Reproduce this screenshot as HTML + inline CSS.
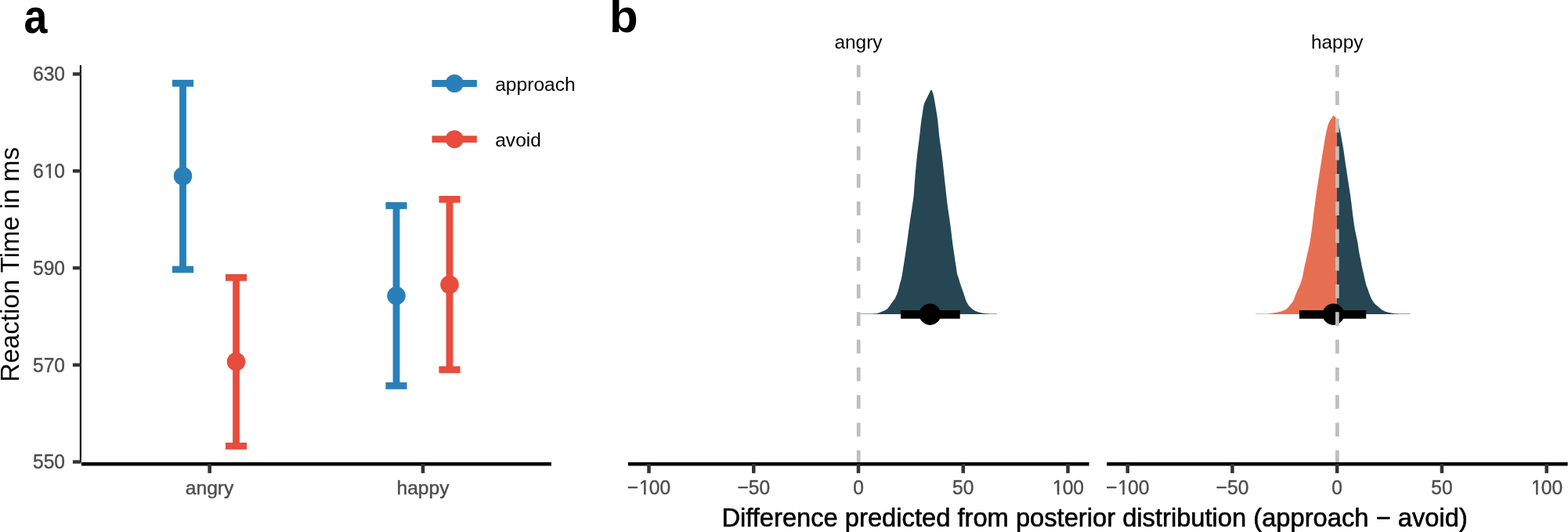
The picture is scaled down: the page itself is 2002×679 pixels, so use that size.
<!DOCTYPE html>
<html><head><meta charset="utf-8"><title>Figure</title>
<style>html,body{margin:0;padding:0;background:#fff;width:2002px;height:679px;overflow:hidden}svg{display:block}</style>
</head><body>
<svg width="2002" height="679" viewBox="0 0 2002 679">
<rect width="2002" height="679" fill="#FFFFFF"/>
<text transform="translate(30.4 41.85) scale(0.875 1)" font-family="'Liberation Sans', Arial, sans-serif" font-weight="bold" font-size="61.5" fill="#000">a</text>
<text x="778" y="41.0" font-family="'Liberation Sans', Arial, sans-serif" font-weight="bold" font-size="60" fill="#000">b</text>
<text transform="translate(24.4 337.6) rotate(-90)" text-anchor="middle" font-family="'Liberation Sans', Arial, sans-serif" font-size="33.1" fill="#000">Reaction Time in ms</text>
<line x1="102.85" y1="84.05" x2="102.85" y2="589.5" stroke="#000" stroke-width="2.1" stroke-linecap="round"/>
<line x1="92.9" y1="94.50" x2="103.3" y2="94.50" stroke="#333333" stroke-width="4.4"/>
<text transform="translate(41.96 103.40) scale(1 1.07)" font-family="'Liberation Sans', Arial, sans-serif" font-size="24.6" fill="#4D4D4D" stroke="#4D4D4D" stroke-width="0.4" stroke-linejoin="round">630</text>
<line x1="92.9" y1="218.25" x2="103.3" y2="218.25" stroke="#333333" stroke-width="4.4"/>
<text transform="translate(41.96 227.15) scale(1 1.07)" font-family="'Liberation Sans', Arial, sans-serif" font-size="24.6" fill="#4D4D4D" stroke="#4D4D4D" stroke-width="0.4" stroke-linejoin="round">6<tspan dx="0.90">1</tspan><tspan dx="-0.90">0</tspan></text><rect x="57.02" y="223.68" width="5.49" height="4.67" fill="#FFFFFF"/><rect x="65.12" y="223.68" width="4.85" height="4.67" fill="#FFFFFF"/>
<line x1="92.9" y1="342.00" x2="103.3" y2="342.00" stroke="#333333" stroke-width="4.4"/>
<text transform="translate(41.96 350.90) scale(1 1.07)" font-family="'Liberation Sans', Arial, sans-serif" font-size="24.6" fill="#4D4D4D" stroke="#4D4D4D" stroke-width="0.4" stroke-linejoin="round">590</text>
<line x1="92.9" y1="465.75" x2="103.3" y2="465.75" stroke="#333333" stroke-width="4.4"/>
<text transform="translate(41.96 474.65) scale(1 1.07)" font-family="'Liberation Sans', Arial, sans-serif" font-size="24.6" fill="#4D4D4D" stroke="#4D4D4D" stroke-width="0.4" stroke-linejoin="round">570</text>
<line x1="92.9" y1="589.50" x2="103.3" y2="589.50" stroke="#333333" stroke-width="4.4"/>
<text transform="translate(41.96 598.40) scale(1 1.07)" font-family="'Liberation Sans', Arial, sans-serif" font-size="24.6" fill="#4D4D4D" stroke="#4D4D4D" stroke-width="0.4" stroke-linejoin="round">550</text>
<line x1="103.9" y1="592.25" x2="703.9" y2="592.25" stroke="#000" stroke-width="4.6"/>
<line x1="267.6" y1="592.2" x2="267.6" y2="603.9" stroke="#333333" stroke-width="4.6"/>
<text x="267.6" y="630.8" text-anchor="middle" font-family="'Liberation Sans', Arial, sans-serif" font-size="24.6" fill="#4D4D4D" stroke="#4D4D4D" stroke-width="0.45" stroke-linejoin="round">angry</text>
<line x1="540.0" y1="592.2" x2="540.0" y2="603.9" stroke="#333333" stroke-width="4.6"/>
<text x="540.0" y="630.8" text-anchor="middle" font-family="'Liberation Sans', Arial, sans-serif" font-size="24.6" fill="#4D4D4D" stroke="#4D4D4D" stroke-width="0.45" stroke-linejoin="round">happy</text>
<line x1="233.5" y1="106.25" x2="233.5" y2="343.9" stroke="#2980B9" stroke-width="8.8"/>
<line x1="219.9" y1="106.25" x2="247.1" y2="106.25" stroke="#2980B9" stroke-width="8.8"/>
<line x1="219.9" y1="343.9" x2="247.1" y2="343.9" stroke="#2980B9" stroke-width="8.8"/>
<circle cx="233.5" cy="224.85" r="11.8" fill="#2980B9"/>
<line x1="301.5" y1="354.25" x2="301.5" y2="569.3" stroke="#E74C3C" stroke-width="8.8"/>
<line x1="287.9" y1="354.25" x2="315.1" y2="354.25" stroke="#E74C3C" stroke-width="8.8"/>
<line x1="287.9" y1="569.3" x2="315.1" y2="569.3" stroke="#E74C3C" stroke-width="8.8"/>
<circle cx="301.5" cy="461.65" r="11.8" fill="#E74C3C"/>
<line x1="506.0" y1="262.45" x2="506.0" y2="492.4" stroke="#2980B9" stroke-width="8.8"/>
<line x1="492.4" y1="262.45" x2="519.6" y2="262.45" stroke="#2980B9" stroke-width="8.8"/>
<line x1="492.4" y1="492.4" x2="519.6" y2="492.4" stroke="#2980B9" stroke-width="8.8"/>
<circle cx="506.0" cy="377.5" r="11.8" fill="#2980B9"/>
<line x1="574.0" y1="254.4" x2="574.0" y2="471.85" stroke="#E74C3C" stroke-width="8.8"/>
<line x1="560.4" y1="254.4" x2="587.6" y2="254.4" stroke="#E74C3C" stroke-width="8.8"/>
<line x1="560.4" y1="471.85" x2="587.6" y2="471.85" stroke="#E74C3C" stroke-width="8.8"/>
<circle cx="574.0" cy="363.3" r="11.8" fill="#E74C3C"/>
<line x1="551.5" y1="106.5" x2="608.9" y2="106.5" stroke="#2980B9" stroke-width="8.8"/>
<circle cx="580.3" cy="106.5" r="11.5" fill="#2980B9"/>
<text x="632.2" y="116.2" font-family="'Liberation Sans', Arial, sans-serif" font-size="24.6" fill="#000">approach</text>
<line x1="551.5" y1="177.65" x2="608.9" y2="177.65" stroke="#E74C3C" stroke-width="8.8"/>
<circle cx="580.3" cy="177.65" r="11.5" fill="#E74C3C"/>
<text x="632.2" y="186.6" font-family="'Liberation Sans', Arial, sans-serif" font-size="24.6" fill="#000">avoid</text>
<path d="M1098.50,401.05 L1098.50,400.55 L1099.00,400.55 L1099.50,400.55 L1100.00,400.55 L1100.50,400.55 L1101.00,400.55 L1101.50,400.55 L1102.00,400.54 L1102.50,400.54 L1103.00,400.54 L1103.50,400.54 L1104.00,400.54 L1104.50,400.53 L1105.00,400.53 L1105.50,400.52 L1106.00,400.52 L1106.50,400.52 L1107.00,400.51 L1107.50,400.51 L1108.00,400.50 L1108.50,400.50 L1109.00,400.49 L1109.50,400.48 L1110.00,400.48 L1110.50,400.47 L1111.00,400.46 L1111.50,400.45 L1112.00,400.44 L1112.50,400.43 L1113.00,400.42 L1113.50,400.41 L1114.00,400.40 L1114.50,400.39 L1115.00,400.38 L1115.50,400.37 L1116.00,400.36 L1116.50,400.34 L1117.00,400.33 L1117.50,400.31 L1118.00,400.30 L1118.50,400.26 L1119.00,400.19 L1119.50,400.09 L1120.00,399.96 L1120.50,399.82 L1121.00,399.66 L1121.50,399.50 L1122.00,399.33 L1122.50,399.17 L1123.00,398.99 L1123.50,398.79 L1124.00,398.58 L1124.50,398.35 L1125.00,398.12 L1125.50,397.88 L1126.00,397.65 L1126.50,397.43 L1127.00,397.22 L1127.50,397.02 L1128.00,396.84 L1128.50,396.67 L1129.00,396.49 L1129.50,396.31 L1130.00,396.10 L1130.50,395.87 L1131.00,395.61 L1131.50,395.31 L1132.00,394.93 L1132.50,394.48 L1133.00,393.98 L1133.50,393.44 L1134.00,392.86 L1134.50,392.28 L1135.00,391.68 L1135.50,391.03 L1136.00,390.32 L1136.50,389.57 L1137.00,388.82 L1137.50,388.10 L1138.00,387.40 L1138.50,386.71 L1139.00,386.02 L1139.50,385.34 L1140.00,384.64 L1140.50,383.95 L1141.00,383.28 L1141.50,382.61 L1142.00,381.90 L1142.50,381.13 L1143.00,380.27 L1143.50,379.30 L1144.00,378.24 L1144.50,377.10 L1145.00,375.88 L1145.50,374.56 L1146.00,373.16 L1146.50,371.65 L1147.00,370.04 L1147.50,368.22 L1148.00,366.14 L1148.50,364.00 L1149.00,362.03 L1149.50,360.32 L1150.00,358.71 L1150.50,357.01 L1151.00,355.00 L1151.50,352.36 L1152.00,349.42 L1152.50,346.44 L1153.00,343.37 L1153.50,340.23 L1154.00,337.05 L1154.50,333.84 L1155.00,330.58 L1155.50,327.29 L1156.00,323.96 L1156.50,320.58 L1157.00,317.16 L1157.50,313.70 L1158.00,310.16 L1158.50,306.50 L1159.00,302.76 L1159.50,298.99 L1160.00,295.23 L1160.50,291.52 L1161.00,287.91 L1161.50,284.43 L1162.00,281.08 L1162.50,277.81 L1163.00,274.60 L1163.50,271.39 L1164.00,268.14 L1164.50,264.83 L1165.00,261.41 L1165.50,257.92 L1166.00,254.43 L1166.50,250.42 L1167.00,245.07 L1167.50,238.25 L1168.00,230.94 L1168.50,224.19 L1169.00,218.46 L1169.50,213.05 L1170.00,207.91 L1170.50,203.01 L1171.00,198.32 L1171.50,193.87 L1172.00,189.78 L1172.50,185.92 L1173.00,182.16 L1173.50,178.35 L1174.00,174.34 L1174.50,170.00 L1175.00,164.93 L1175.50,160.39 L1176.00,156.40 L1176.50,152.82 L1177.00,149.65 L1177.50,146.58 L1178.00,143.21 L1178.50,139.57 L1179.00,136.50 L1179.50,134.22 L1180.00,132.40 L1180.50,131.03 L1181.00,129.90 L1181.50,128.90 L1182.00,127.91 L1182.50,126.88 L1183.00,125.87 L1183.50,124.89 L1184.00,123.90 L1184.50,122.89 L1185.00,121.85 L1185.50,120.80 L1186.00,119.78 L1186.50,118.80 L1187.00,117.74 L1187.50,116.58 L1188.00,115.53 L1188.50,114.81 L1189.00,114.61 L1189.50,115.06 L1190.00,115.98 L1190.50,117.20 L1191.00,118.54 L1191.50,120.03 L1192.00,121.98 L1192.50,124.28 L1193.00,127.13 L1193.50,130.00 L1194.00,132.95 L1194.50,135.91 L1195.00,138.79 L1195.50,141.63 L1196.00,144.65 L1196.50,148.02 L1197.00,151.75 L1197.50,155.97 L1198.00,160.89 L1198.50,166.59 L1199.00,171.85 L1199.50,176.07 L1200.00,179.81 L1200.50,183.25 L1201.00,186.56 L1201.50,189.89 L1202.00,193.42 L1202.50,197.31 L1203.00,201.49 L1203.50,205.83 L1204.00,210.30 L1204.50,214.84 L1205.00,219.39 L1205.50,223.90 L1206.00,228.45 L1206.50,233.04 L1207.00,237.66 L1207.50,242.26 L1208.00,246.81 L1208.50,251.30 L1209.00,255.79 L1209.50,260.00 L1210.00,263.81 L1210.50,267.39 L1211.00,270.80 L1211.50,274.12 L1212.00,277.43 L1212.50,280.80 L1213.00,284.30 L1213.50,288.02 L1214.00,291.97 L1214.50,296.07 L1215.00,300.24 L1215.50,304.39 L1216.00,308.43 L1216.50,312.26 L1217.00,315.87 L1217.50,319.35 L1218.00,322.72 L1218.50,326.01 L1219.00,329.26 L1219.50,332.48 L1220.00,335.70 L1220.50,338.94 L1221.00,342.40 L1221.50,346.00 L1222.00,349.07 L1222.50,351.10 L1223.00,352.57 L1223.50,353.86 L1224.00,355.32 L1224.50,356.98 L1225.00,358.72 L1225.50,360.45 L1226.00,362.09 L1226.50,363.59 L1227.00,365.01 L1227.50,366.38 L1228.00,367.74 L1228.50,369.13 L1229.00,370.57 L1229.50,372.05 L1230.00,373.54 L1230.50,375.04 L1231.00,376.52 L1231.50,377.99 L1232.00,379.50 L1232.50,381.01 L1233.00,382.46 L1233.50,383.79 L1234.00,384.94 L1234.50,385.98 L1235.00,386.93 L1235.50,387.78 L1236.00,388.55 L1236.50,389.27 L1237.00,389.95 L1237.50,390.57 L1238.00,391.15 L1238.50,391.70 L1239.00,392.21 L1239.50,392.69 L1240.00,393.16 L1240.50,393.61 L1241.00,394.04 L1241.50,394.44 L1242.00,394.82 L1242.50,395.17 L1243.00,395.50 L1243.50,395.81 L1244.00,396.10 L1244.50,396.38 L1245.00,396.64 L1245.50,396.89 L1246.00,397.12 L1246.50,397.34 L1247.00,397.55 L1247.50,397.74 L1248.00,397.92 L1248.50,398.09 L1249.00,398.25 L1249.50,398.41 L1250.00,398.56 L1250.50,398.70 L1251.00,398.83 L1251.50,398.96 L1252.00,399.07 L1252.50,399.18 L1253.00,399.28 L1253.50,399.38 L1254.00,399.48 L1254.50,399.58 L1255.00,399.67 L1255.50,399.76 L1256.00,399.85 L1256.50,399.93 L1257.00,400.01 L1257.50,400.08 L1258.00,400.14 L1258.50,400.20 L1259.00,400.24 L1259.50,400.28 L1260.00,400.30 L1260.50,400.32 L1261.00,400.34 L1261.50,400.35 L1262.00,400.37 L1262.50,400.38 L1263.00,400.40 L1263.50,400.41 L1264.00,400.43 L1264.50,400.44 L1265.00,400.45 L1265.50,400.47 L1266.00,400.48 L1266.50,400.49 L1267.00,400.50 L1267.50,400.50 L1268.00,400.51 L1268.50,400.52 L1269.00,400.53 L1269.50,400.53 L1270.00,400.54 L1270.50,400.54 L1271.00,400.54 L1271.50,400.55 L1272.00,400.55 L1272.50,400.55 L1272.80,400.55 L1272.80,401.05 Z" fill="#264653"/>
<path d="M1603.10,401.05 L1603.10,400.55 L1603.60,400.55 L1604.10,400.55 L1604.60,400.55 L1605.10,400.55 L1605.60,400.55 L1606.10,400.55 L1606.60,400.54 L1607.10,400.54 L1607.60,400.54 L1608.10,400.54 L1608.60,400.53 L1609.10,400.53 L1609.60,400.53 L1610.10,400.52 L1610.60,400.52 L1611.10,400.52 L1611.60,400.51 L1612.10,400.51 L1612.60,400.50 L1613.10,400.50 L1613.60,400.49 L1614.10,400.49 L1614.60,400.48 L1615.10,400.48 L1615.60,400.47 L1616.10,400.46 L1616.60,400.46 L1617.10,400.45 L1617.60,400.44 L1618.10,400.42 L1618.60,400.39 L1619.10,400.36 L1619.60,400.32 L1620.10,400.27 L1620.60,400.21 L1621.10,400.16 L1621.60,400.09 L1622.10,400.03 L1622.60,399.96 L1623.10,399.88 L1623.60,399.81 L1624.10,399.73 L1624.60,399.65 L1625.10,399.57 L1625.60,399.49 L1626.10,399.41 L1626.60,399.33 L1627.10,399.25 L1627.60,399.17 L1628.10,399.09 L1628.60,399.01 L1629.10,398.92 L1629.60,398.84 L1630.10,398.75 L1630.60,398.65 L1631.10,398.55 L1631.60,398.45 L1632.10,398.35 L1632.60,398.24 L1633.10,398.12 L1633.60,398.00 L1634.10,397.88 L1634.60,397.75 L1635.10,397.62 L1635.60,397.48 L1636.10,397.33 L1636.60,397.18 L1637.10,397.02 L1637.60,396.85 L1638.10,396.66 L1638.60,396.47 L1639.10,396.26 L1639.60,396.04 L1640.10,395.80 L1640.60,395.55 L1641.10,395.27 L1641.60,394.95 L1642.10,394.58 L1642.60,394.18 L1643.10,393.75 L1643.60,393.29 L1644.10,392.81 L1644.60,392.31 L1645.10,391.80 L1645.60,391.24 L1646.10,390.62 L1646.60,389.96 L1647.10,389.28 L1647.60,388.61 L1648.10,387.98 L1648.60,387.41 L1649.10,386.87 L1649.60,386.34 L1650.10,385.77 L1650.60,385.11 L1651.10,384.33 L1651.60,383.31 L1652.10,382.07 L1652.60,380.69 L1653.10,379.27 L1653.60,377.88 L1654.10,376.60 L1654.60,375.34 L1655.10,374.08 L1655.60,372.84 L1656.10,371.61 L1656.60,370.41 L1657.10,369.24 L1657.60,368.14 L1658.10,367.09 L1658.60,366.05 L1659.10,364.99 L1659.60,363.87 L1660.10,362.66 L1660.60,361.34 L1661.10,359.95 L1661.60,358.44 L1662.10,356.81 L1662.60,355.00 L1663.10,352.88 L1663.60,350.41 L1664.10,347.75 L1664.60,345.05 L1665.10,342.47 L1665.60,340.10 L1666.10,337.84 L1666.60,335.62 L1667.10,333.42 L1667.60,331.20 L1668.10,328.96 L1668.60,326.72 L1669.10,324.48 L1669.60,322.24 L1670.10,320.02 L1670.60,317.89 L1671.10,315.78 L1671.60,313.57 L1672.10,311.13 L1672.60,308.29 L1673.10,305.04 L1673.60,301.64 L1674.10,298.32 L1674.60,295.02 L1675.10,291.51 L1675.60,287.53 L1676.10,283.03 L1676.60,278.66 L1677.10,274.45 L1677.60,270.29 L1678.10,266.18 L1678.60,262.16 L1679.10,258.25 L1679.60,254.47 L1680.10,250.84 L1680.60,247.34 L1681.10,243.95 L1681.60,240.65 L1682.10,237.40 L1682.60,234.19 L1683.10,230.99 L1683.60,227.79 L1684.10,224.57 L1684.60,221.38 L1685.10,218.21 L1685.60,215.07 L1686.10,211.93 L1686.60,208.81 L1687.10,205.67 L1687.60,202.53 L1688.10,199.37 L1688.60,196.18 L1689.10,193.00 L1689.60,189.83 L1690.10,186.67 L1690.60,183.59 L1691.10,180.52 L1691.60,177.54 L1692.10,174.76 L1692.60,172.15 L1693.10,169.67 L1693.60,167.36 L1694.10,165.24 L1694.60,163.18 L1695.10,161.23 L1695.60,159.47 L1696.10,157.96 L1696.60,156.73 L1697.10,155.65 L1697.60,154.70 L1698.10,153.81 L1698.60,152.96 L1699.10,152.16 L1699.60,151.42 L1700.10,150.73 L1700.60,150.04 L1701.10,149.30 L1701.60,148.60 L1702.10,148.06 L1702.60,147.81 L1703.10,147.89 L1703.60,148.20 L1704.10,148.67 L1704.60,149.23 L1705.10,149.82 L1705.60,150.50 L1706.10,151.31 L1706.60,152.26 L1706.90,152.89 L1706.90,401.05 Z" fill="#E76F51"/>
<path d="M1706.90,401.05 L1706.90,152.89 L1707.40,154.03 L1707.90,155.27 L1708.40,156.62 L1708.90,158.06 L1709.40,159.59 L1709.90,161.32 L1710.40,163.45 L1710.90,165.87 L1711.40,168.44 L1711.90,171.07 L1712.40,173.96 L1712.90,177.01 L1713.40,180.02 L1713.90,182.83 L1714.40,185.52 L1714.90,188.25 L1715.40,191.20 L1715.90,194.50 L1716.40,198.07 L1716.90,201.73 L1717.40,205.31 L1717.90,208.71 L1718.40,212.05 L1718.90,215.35 L1719.40,218.63 L1719.90,221.90 L1720.40,225.18 L1720.90,228.47 L1721.40,231.71 L1721.90,234.92 L1722.40,238.13 L1722.90,241.37 L1723.40,244.66 L1723.90,248.05 L1724.40,251.56 L1724.90,255.24 L1725.40,259.17 L1725.90,263.27 L1726.40,267.45 L1726.90,271.61 L1727.40,275.66 L1727.90,279.50 L1728.40,283.22 L1728.90,286.81 L1729.40,290.00 L1729.90,292.72 L1730.40,295.16 L1730.90,297.47 L1731.40,299.81 L1731.90,302.21 L1732.40,304.52 L1732.90,306.90 L1733.40,309.48 L1733.90,312.50 L1734.40,316.12 L1734.90,319.67 L1735.40,322.56 L1735.90,325.07 L1736.40,327.40 L1736.90,329.73 L1737.40,332.22 L1737.90,334.84 L1738.40,337.48 L1738.90,340.04 L1739.40,342.43 L1739.90,344.66 L1740.40,346.79 L1740.90,348.89 L1741.40,351.02 L1741.90,353.25 L1742.40,355.54 L1742.90,357.82 L1743.40,360.00 L1743.90,362.04 L1744.40,363.70 L1744.90,365.16 L1745.40,366.51 L1745.90,367.81 L1746.40,369.14 L1746.90,370.56 L1747.40,372.05 L1747.90,373.55 L1748.40,375.00 L1748.90,376.36 L1749.40,377.57 L1749.90,378.72 L1750.40,379.83 L1750.90,380.89 L1751.40,381.89 L1751.90,382.83 L1752.40,383.70 L1752.90,384.50 L1753.40,385.23 L1753.90,385.91 L1754.40,386.54 L1754.90,387.13 L1755.40,387.68 L1755.90,388.20 L1756.40,388.68 L1756.90,389.13 L1757.40,389.56 L1757.90,389.97 L1758.40,390.36 L1758.90,390.75 L1759.40,391.15 L1759.90,391.55 L1760.40,391.97 L1760.90,392.41 L1761.40,392.86 L1761.90,393.32 L1762.40,393.77 L1762.90,394.21 L1763.40,394.63 L1763.90,395.02 L1764.40,395.37 L1764.90,395.68 L1765.40,395.98 L1765.90,396.26 L1766.40,396.53 L1766.90,396.78 L1767.40,397.02 L1767.90,397.24 L1768.40,397.44 L1768.90,397.63 L1769.40,397.80 L1769.90,397.96 L1770.40,398.11 L1770.90,398.26 L1771.40,398.39 L1771.90,398.52 L1772.40,398.64 L1772.90,398.76 L1773.40,398.87 L1773.90,398.98 L1774.40,399.08 L1774.90,399.18 L1775.40,399.28 L1775.90,399.38 L1776.40,399.47 L1776.90,399.57 L1777.40,399.67 L1777.90,399.76 L1778.40,399.85 L1778.90,399.94 L1779.40,400.02 L1779.90,400.09 L1780.40,400.16 L1780.90,400.21 L1781.40,400.25 L1781.90,400.28 L1782.40,400.30 L1782.90,400.32 L1783.40,400.33 L1783.90,400.34 L1784.40,400.36 L1784.90,400.37 L1785.40,400.38 L1785.90,400.39 L1786.40,400.40 L1786.90,400.41 L1787.40,400.42 L1787.90,400.43 L1788.40,400.44 L1788.90,400.45 L1789.40,400.46 L1789.90,400.47 L1790.40,400.47 L1790.90,400.48 L1791.40,400.49 L1791.90,400.50 L1792.40,400.50 L1792.90,400.51 L1793.40,400.51 L1793.90,400.52 L1794.40,400.52 L1794.90,400.53 L1795.40,400.53 L1795.90,400.53 L1796.40,400.54 L1796.90,400.54 L1797.40,400.54 L1797.90,400.54 L1798.40,400.55 L1798.90,400.55 L1799.40,400.55 L1799.90,400.55 L1800.40,400.55 L1800.70,400.55 L1800.70,401.05 Z" fill="#264653"/>
<line x1="1150.1" y1="401.4" x2="1225.7" y2="401.4" stroke="#000" stroke-width="10.8"/>
<circle cx="1187.45" cy="401.15" r="13.75" fill="#000"/>
<line x1="1659.0" y1="401.4" x2="1744.2" y2="401.4" stroke="#000" stroke-width="10.8"/>
<circle cx="1702.4" cy="401.15" r="13.75" fill="#000"/>
<line x1="1096.20" y1="592.4" x2="1096.20" y2="82.9" stroke="#BEBEBE" stroke-width="4.7" stroke-dasharray="17.7 17.57"/>
<line x1="802.0" y1="592.3" x2="1390.5" y2="592.3" stroke="#000" stroke-width="4.4"/>
<line x1="828.50" y1="592.2" x2="828.50" y2="603.9" stroke="#333333" stroke-width="4.5"/>
<text transform="translate(800.79 631.00) scale(1 1.07)" font-family="'Liberation Sans', Arial, sans-serif" font-size="24.6" fill="#4D4D4D" stroke="#4D4D4D" stroke-width="0.4" stroke-linejoin="round">−<tspan dx="0.90">1</tspan><tspan dx="-0.90">0</tspan>0</text><rect x="816.54" y="627.53" width="5.49" height="4.67" fill="#FFFFFF"/><rect x="824.64" y="627.53" width="4.85" height="4.67" fill="#FFFFFF"/>
<line x1="962.25" y1="592.2" x2="962.25" y2="603.9" stroke="#333333" stroke-width="4.5"/>
<text transform="translate(941.39 631.00) scale(1 1.07)" font-family="'Liberation Sans', Arial, sans-serif" font-size="24.6" fill="#4D4D4D" stroke="#4D4D4D" stroke-width="0.4" stroke-linejoin="round">−50</text>
<line x1="1096.00" y1="592.2" x2="1096.00" y2="603.9" stroke="#333333" stroke-width="4.5"/>
<text transform="translate(1089.16 631.00) scale(1 1.07)" font-family="'Liberation Sans', Arial, sans-serif" font-size="24.6" fill="#4D4D4D" stroke="#4D4D4D" stroke-width="0.4" stroke-linejoin="round">0</text>
<line x1="1229.75" y1="592.2" x2="1229.75" y2="603.9" stroke="#333333" stroke-width="4.5"/>
<text transform="translate(1216.07 631.00) scale(1 1.07)" font-family="'Liberation Sans', Arial, sans-serif" font-size="24.6" fill="#4D4D4D" stroke="#4D4D4D" stroke-width="0.4" stroke-linejoin="round">50</text>
<line x1="1363.50" y1="592.2" x2="1363.50" y2="603.9" stroke="#333333" stroke-width="4.5"/>
<text transform="translate(1342.98 631.00) scale(1 1.07)" font-family="'Liberation Sans', Arial, sans-serif" font-size="24.6" fill="#4D4D4D" stroke="#4D4D4D" stroke-width="0.4" stroke-linejoin="round"><tspan dx="0.90">1</tspan><tspan dx="-0.90">0</tspan>0</text><rect x="1344.36" y="627.53" width="5.49" height="4.67" fill="#FFFFFF"/><rect x="1352.46" y="627.53" width="4.85" height="4.67" fill="#FFFFFF"/>
<text x="1096.0" y="62.1" text-anchor="middle" font-family="'Liberation Sans', Arial, sans-serif" font-size="24.4" fill="#000">angry</text>
<line x1="1707.40" y1="592.4" x2="1707.40" y2="82.9" stroke="#BEBEBE" stroke-width="4.7" stroke-dasharray="17.7 17.57"/>
<line x1="1413.1" y1="592.3" x2="2001.6" y2="592.3" stroke="#000" stroke-width="4.4"/>
<line x1="1439.70" y1="592.2" x2="1439.70" y2="603.9" stroke="#333333" stroke-width="4.5"/>
<text transform="translate(1411.99 631.00) scale(1 1.07)" font-family="'Liberation Sans', Arial, sans-serif" font-size="24.6" fill="#4D4D4D" stroke="#4D4D4D" stroke-width="0.4" stroke-linejoin="round">−<tspan dx="0.90">1</tspan><tspan dx="-0.90">0</tspan>0</text><rect x="1427.74" y="627.53" width="5.49" height="4.67" fill="#FFFFFF"/><rect x="1435.84" y="627.53" width="4.85" height="4.67" fill="#FFFFFF"/>
<line x1="1573.45" y1="592.2" x2="1573.45" y2="603.9" stroke="#333333" stroke-width="4.5"/>
<text transform="translate(1552.59 631.00) scale(1 1.07)" font-family="'Liberation Sans', Arial, sans-serif" font-size="24.6" fill="#4D4D4D" stroke="#4D4D4D" stroke-width="0.4" stroke-linejoin="round">−50</text>
<line x1="1707.20" y1="592.2" x2="1707.20" y2="603.9" stroke="#333333" stroke-width="4.5"/>
<text transform="translate(1700.36 631.00) scale(1 1.07)" font-family="'Liberation Sans', Arial, sans-serif" font-size="24.6" fill="#4D4D4D" stroke="#4D4D4D" stroke-width="0.4" stroke-linejoin="round">0</text>
<line x1="1840.95" y1="592.2" x2="1840.95" y2="603.9" stroke="#333333" stroke-width="4.5"/>
<text transform="translate(1827.27 631.00) scale(1 1.07)" font-family="'Liberation Sans', Arial, sans-serif" font-size="24.6" fill="#4D4D4D" stroke="#4D4D4D" stroke-width="0.4" stroke-linejoin="round">50</text>
<line x1="1974.70" y1="592.2" x2="1974.70" y2="603.9" stroke="#333333" stroke-width="4.5"/>
<text transform="translate(1954.18 631.00) scale(1 1.07)" font-family="'Liberation Sans', Arial, sans-serif" font-size="24.6" fill="#4D4D4D" stroke="#4D4D4D" stroke-width="0.4" stroke-linejoin="round"><tspan dx="0.90">1</tspan><tspan dx="-0.90">0</tspan>0</text><rect x="1955.56" y="627.53" width="5.49" height="4.67" fill="#FFFFFF"/><rect x="1963.66" y="627.53" width="4.85" height="4.67" fill="#FFFFFF"/>
<text x="1707.2" y="62.1" text-anchor="middle" font-family="'Liberation Sans', Arial, sans-serif" font-size="24.4" fill="#000">happy</text>
<text x="1397.6" y="672" text-anchor="middle" font-family="'Liberation Sans', Arial, sans-serif" font-size="32.7" fill="#000" stroke="#000" stroke-width="0.6" stroke-linejoin="round">Difference predicted from posterior distribution (approach − avoid)</text>
</svg>
</body></html>
